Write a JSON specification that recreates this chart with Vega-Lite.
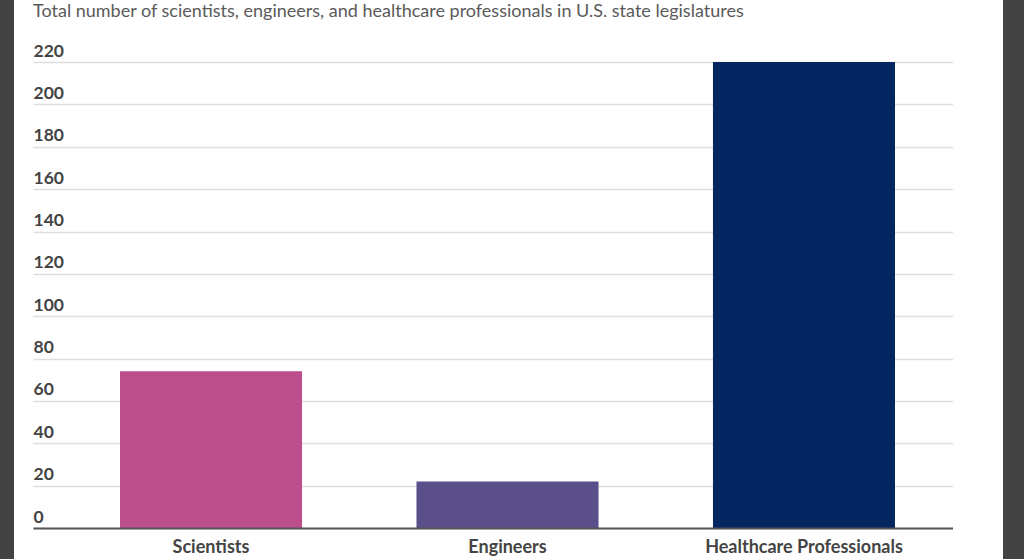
{
  "$schema": "https://vega.github.io/schema/vega-lite/v6.json",
  "padding": 0,
  "background": "white",
  "spacing": 0,
  "config": {
    "view": {"stroke": null},
    "font": "Lato"
  },
  "hconcat": [
    {
      "width": 14, "height": 559,
      "view": {"fill": "#424242", "stroke": null},
      "data": {"values": [{}]},
      "mark": {"type": "point", "opacity": 0},
      "encoding": {}
    },
    {
      "width": 19, "height": 559,
      "view": {"fill": "white", "stroke": null},
      "data": {"values": [{}]},
      "mark": {"type": "point", "opacity": 0},
      "encoding": {}
    },
    {
      "width": 920,
      "height": 559,
      "view": {"fill": "white", "stroke": null},
      "title": {
        "text": "Total number of scientists, engineers, and healthcare professionals in U.S. state legislatures",
        "anchor": "start",
        "frame": "group",
        "orient": "top",
        "offset": -21,
        "font": "Lato",
        "fontSize": 18,
        "fontWeight": "normal",
        "color": "#5a5a5a"
      },
      "data": {
        "values": [
          {"category": "Scientists", "count": 74},
          {"category": "Engineers", "count": 22},
          {"category": "Healthcare Professionals", "count": 220}
        ]
      },
      "mark": {"type": "bar"},
      "encoding": {
        "x": {
          "field": "category",
          "type": "nominal",
          "sort": null,
          "scale": {"paddingInner": 0.386, "paddingOuter": 0.2445, "align": 0.6},
          "axis": {
            "title": null,
            "labelAngle": 0,
            "ticks": false,
            "grid": false,
            "offset": -31,
            "domainColor": "#555555",
            "domainWidth": 2,
            "labelPadding": 10,
            "labelLimit": 0,
            "labelFont": "Lato",
            "labelFontSize": 18,
            "labelFontWeight": "bold",
            "labelColor": "#444444",
            "zindex": 2
          }
        },
        "y": {
          "field": "count",
          "type": "quantitative",
          "scale": {"domain": [-14.6, 249.3], "nice": false, "zero": false},
          "axis": {
            "title": null,
            "values": [0, 20, 40, 60, 80, 100, 120, 140, 160, 180, 200, 220],
            "domain": false,
            "ticks": false,
            "tickSize": 0,
            "labelAlign": "left",
            "labelBaseline": "alphabetic",
            "labelPadding": 0,
            "labelOffset": -6,
            "labelFont": "Lato",
            "labelFontSize": 17.5,
            "labelFontWeight": "bold",
            "labelColor": "#444444",
            "gridColor": "#dedede",
            "gridWidth": 1.5
          }
        },
        "y2": {"datum": 0},
        "color": {
          "field": "category",
          "type": "nominal",
          "legend": null,
          "scale": {
            "domain": ["Scientists", "Engineers", "Healthcare Professionals"],
            "range": ["#bc4e8c", "#5a4f8a", "#032661"]
          }
        }
      }
    },
    {
      "width": 50, "height": 559,
      "view": {"fill": "white", "stroke": null},
      "data": {"values": [{}]},
      "mark": {"type": "point", "opacity": 0},
      "encoding": {}
    },
    {
      "width": 21, "height": 559,
      "view": {"fill": "#424242", "stroke": null},
      "data": {"values": [{}]},
      "mark": {"type": "point", "opacity": 0},
      "encoding": {}
    }
  ]
}
